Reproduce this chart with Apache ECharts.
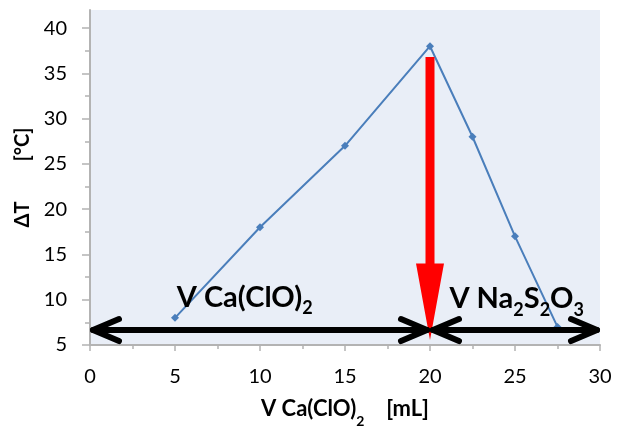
<!DOCTYPE html>
<html><head><meta charset="utf-8">
<script src="https://cdn.jsdelivr.net/npm/echarts@6/dist/echarts.min.js"></script>
<style>html,body{margin:0;padding:0;background:#fff}#c{width:618px;height:432px}</style>
</head><body><div id="c"></div>
<script>
// ---- data ----
const xValues = [5, 10, 15, 20, 22.5, 25, 27.5];
const deltaT = [8, 18, 27, 38, 28, 17, 7];
const yTickLabels = [5, 10, 15, 20, 25, 30, 35, 40];
const yMinorTicks = [7.5, 12.5, 17.5, 22.5, 27.5, 32.5, 37.5];
const xTickLabels = [0, 5, 10, 15, 20, 25, 30];
// red arrow: [x, shaft start y, head start y, tip y]
const redArrow = [[20, 36.8, 14.0, 5.55]];
// black double arrows: [x from, x to, y]
const blackArrows = [[0, 20, 6.65], [20, 30, 6.65]];
// annotations: [center x, anchor y, text]
const annotations = [[9.1, 8.05, 'V Ca(ClO){s|2}'], [25.1, 7.9, 'V Na{s|2}S{s|2}O{s|3}']];

const FONT = 'Lato, "Open Sans", sans-serif';
const AX = '#b3b3b3';
const chart = echarts.init(document.getElementById('c'), null, {renderer: 'canvas'});

const option = {
  animation: false,
  grid: {left: 90, right: 18, top: 10, bottom: 87, show: true, backgroundColor: '#e9eef7', borderWidth: 0, outerBoundsMode: 'none'},
  xAxis: {
    type: 'value', min: 0, max: 30, interval: 5,
    name: 'V Ca(ClO){s|2}\u2003 [mL]', nameLocation: 'middle', nameGap: 45,
    nameTextStyle: {fontFamily: FONT, fontWeight: 'bold', fontSize: 22, color: '#000',
      rich: {s: {fontFamily: FONT, fontWeight: 'bold', fontSize: 14, color: '#000', padding: [24, 0, 0, 0]}}},
    axisLine: {lineStyle: {color: AX, width: 2}},
    axisTick: {show: true, length: 6, lineStyle: {color: AX, width: 1.5}, customValues: xTickLabels},
    minorTick: {show: true, splitNumber: 2, length: 4, lineStyle: {color: AX, width: 1.5}},
    axisLabel: {fontFamily: FONT, fontSize: 20, color: '#000', margin: 22, customValues: xTickLabels},
    splitLine: {show: false}
  },
  yAxis: [{
    type: 'value', min: 5, max: 42,
    name: 'ΔT\u2003\u2003\u2002[°C]', nameLocation: 'middle', nameGap: 54, nameRotate: 90,
    nameTextStyle: {fontFamily: FONT, fontWeight: 'bold', fontSize: 20, color: '#000'},
    axisLine: {show: true, lineStyle: {color: AX, width: 2}},
    axisTick: {show: true, length: 8, lineStyle: {color: AX, width: 1.5}, customValues: yTickLabels},
    axisLabel: {fontFamily: FONT, fontSize: 20, color: '#000', margin: 23, customValues: yTickLabels},
    splitLine: {show: false}
  }, {
    type: 'value', min: 5, max: 42, position: 'left', offset: 0,
    axisLine: {show: false},
    axisTick: {show: true, length: 5, lineStyle: {color: AX, width: 1.5}, customValues: yMinorTicks},
    axisLabel: {show: false, customValues: yMinorTicks},
    splitLine: {show: false}
  }],
  series: [{
    type: 'line', z: 2,
    data: xValues.map((x, i) => [x, deltaT[i]]),
    lineStyle: {color: '#4a7ebb', width: 2},
    itemStyle: {color: '#4a7ebb'},
    symbol: 'diamond', symbolSize: 8
  }, {
    type: 'custom', z: 3,
    data: annotations,
    renderItem: function (params, api) {
      const p = api.coord([api.value(0), api.value(1)]);
      return {type: 'text', x: p[0], y: p[1],
        style: {text: annotations[params.dataIndex][2], fill: '#000',
          font: 'bold 29px ' + FONT, align: 'center', verticalAlign: 'bottom',
          rich: {s: {fontFamily: FONT, fontWeight: 'bold', fontSize: 18, fill: '#000', padding: [22, 0, 0, 0]}}}};
    }
  }, {
    type: 'custom', z: 4,
    data: redArrow,
    renderItem: function (params, api) {
      const a = api.coord([api.value(0), api.value(1)]);
      const h = api.coord([api.value(0), api.value(2)]);
      const t = api.coord([api.value(0), api.value(3)]);
      const x = a[0], sw = 4.5, hw = 14;
      return {type: 'polygon', shape: {points: [[x - sw, a[1]], [x + sw, a[1]], [x + sw, h[1]], [x + hw, h[1]], [x, t[1]], [x - hw, h[1]], [x - sw, h[1]]]},
        style: {fill: '#ff0000'}};
    }
  }, {
    type: 'custom', z: 5,
    data: blackArrows,
    renderItem: function (params, api) {
      const a = api.coord([api.value(0), api.value(2)]);
      const b = api.coord([api.value(1), api.value(2)]);
      const st = {stroke: '#000', lineWidth: 6, lineCap: 'round', lineJoin: 'round', fill: null};
      const L = 26, W = 11, o = 3;
      return {type: 'group', children: [
        {type: 'line', shape: {x1: a[0] + o, y1: a[1], x2: b[0] - o, y2: b[1]}, style: st},
        {type: 'polyline', shape: {points: [[a[0] + o + L, a[1] - W], [a[0] + o, a[1]], [a[0] + o + L, a[1] + W]]}, style: st},
        {type: 'polyline', shape: {points: [[b[0] - o - L, b[1] - W], [b[0] - o, b[1]], [b[0] - o - L, b[1] + W]]}, style: st}
      ]};
    }
  }]
};
chart.setOption(option);
</script></body></html>
